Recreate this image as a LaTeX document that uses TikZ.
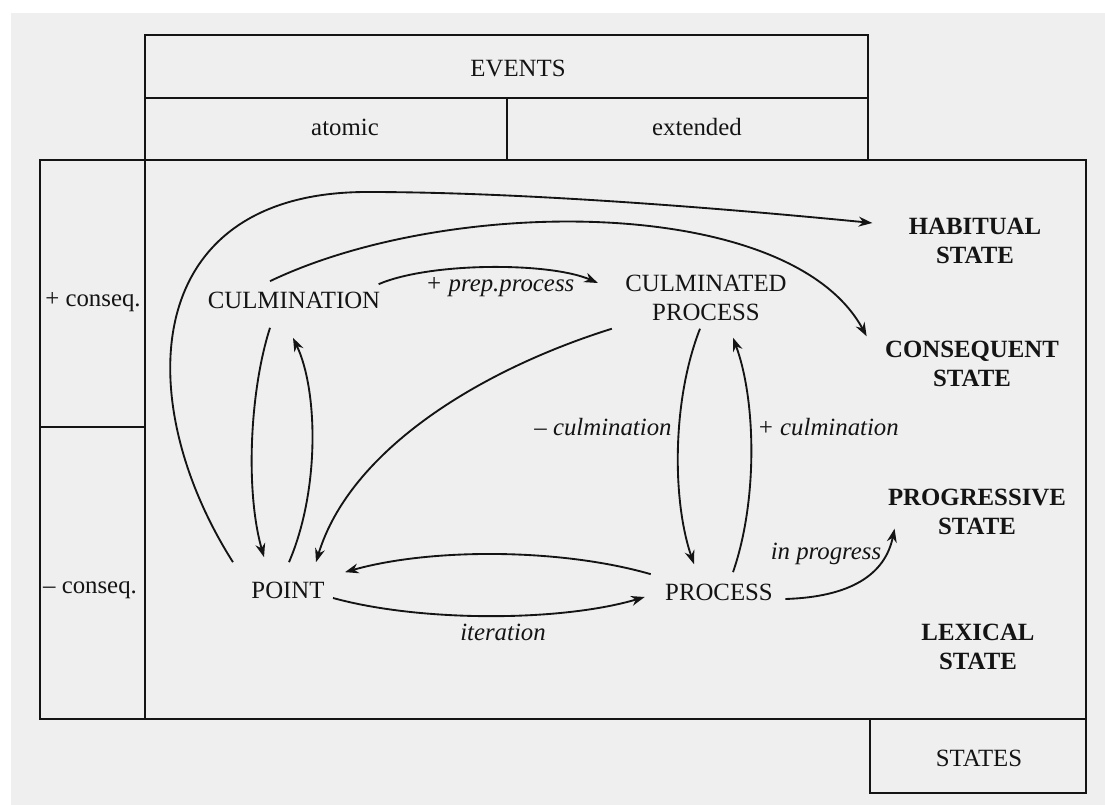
\documentclass[tikz,border=0pt]{standalone}
\usepackage{fontspec}
\setmainfont{Liberation Serif}
\usetikzlibrary{arrows.meta, calc}
\definecolor{paper}{RGB}{239,239,239}
\definecolor{ink}{RGB}{20,20,20}
\tikzset{
  frame/.style={draw=ink, line width=0.8pt},
  evt/.style={inner sep=0pt, text=ink},
  stat/.style={inner sep=0pt, align=center, font=\bfseries, text=ink},
  lbl/.style={inner sep=0pt, font=\itshape, text=ink},
  arrow/.style={-{Stealth[length=5.5pt, width=4pt]}, line width=0.75pt, color=ink},
}

\begin{document}
\begin{tikzpicture}[x=0.403pt, y=0.403pt]
    \useasboundingbox (0,0) rectangle (1105,-805);
    \fill[white] (0,0) rectangle (1105,-805);
    \fill[paper] (11,-13) rectangle (1105,-805);

    % event and state boxes
    \draw[frame] (145,-35) rectangle (868,-160);
    \draw[frame] (145,-98) -- (868,-98);
    \draw[frame] (507,-98) -- (507,-160);
    \draw[frame] (40,-160) rectangle (1086,-719);
    \draw[frame] (145,-160) -- (145,-719);
    \draw[frame] (40,-427) -- (145,-427);
    \draw[frame] (870,-719) rectangle (1086,-793);

    \node[evt] (events) at (518,-68) {EVENTS};
    \node[evt] (atomic) at (345,-127) {atomic};
    \node[evt] (extended) at (697,-127) {extended};
    \node[evt] (plus) at (93,-302) {+ conseq.};
    \node[evt] (minus) at (90,-590) {– conseq.};
    \node[evt] (states) at (979,-758) {STATES};

    % aspectual classes
    \node[evt] (culm) at (294,-300) {CULMINATION};
    \node[evt, align=center] (cp) at (706,-298) {CULMINATED\\PROCESS};
    \node[evt] (point) at (288,-590) {POINT};
    \node[evt] (proc) at (719,-592) {PROCESS};

    \node[stat] (hab) at (975,-241) {HABITUAL\\STATE};
    \node[stat] (cons) at (972,-364) {CONSEQUENT\\STATE};
    \node[stat] (prog) at (977,-512) {PROGRESSIVE\\STATE};
    \node[stat] (lex) at (978,-647) {LEXICAL\\STATE};

    % labels
    \node[lbl] (lprep) at (500,-287) {+ prep.process};
    \node[lbl] (lminus) at (603,-427) {– culmination};
    \node[lbl] (lplus) at (828,-427) {+ culmination};
    \node[lbl] (lprog) at (826,-554) {in progress};
    \node[lbl] (liter) at (503,-632) {iteration};

    % transitions
    \draw[arrow] ($(culm.north)+(-24,10)$) .. controls (450,-195) and (790,-195) .. ($(cons.north west)+(-18,4)$);
    \draw[arrow] ($(point.north west)+(-18,19)$) .. controls (130,-400) and (140,-192) .. (367,-192)
        .. controls (520,-192) and (720,-208) .. ($(hab.west)+(-36,18)$);
    \draw[arrow] ($(culm.north east)+(-2,7)$) .. controls (430,-262) and (550,-262) .. ($(cp.west)+(-27,15)$);
    \draw[arrow] ($(culm.south)+(-24,-19)$) .. controls (250,-390) and (245,-490) .. ($(point.north)+(-24,24)$);
    \draw[arrow] ($(point.north)+(1,19)$) .. controls (320,-490) and (318,-390) .. ($(culm.south)+(-1,-29)$);
    \draw[arrow] ($(cp.south west)+(-13,-7)$) .. controls (480,-370) and (350,-450) .. ($(point.north)+(28,19)$);
    \draw[arrow] ($(cp.south)+(-6,-7)$) .. controls (672,-400) and (672,-500) .. ($(proc.north)+(-25,19)$);
    \draw[arrow] ($(proc.north)+(14,11)$) .. controls (758,-500) and (756,-400) .. ($(cp.south)+(27,-16)$);
    \draw[arrow] ($(proc.north west)+(-14,9)$) .. controls (560,-548) and (430,-548) .. ($(point.north east)+(20,9)$);
    \draw[arrow] ($(point.east)+(8,-8)$) .. controls (420,-622) and (560,-622) .. ($(proc.west)+(-20,-5)$);
    \draw[arrow] ($(proc.east)+(12,-7)$) .. controls (850,-597) and (885,-575) .. ($(prog.south west)+(7,7)$);
\end{tikzpicture}
\end{document}
